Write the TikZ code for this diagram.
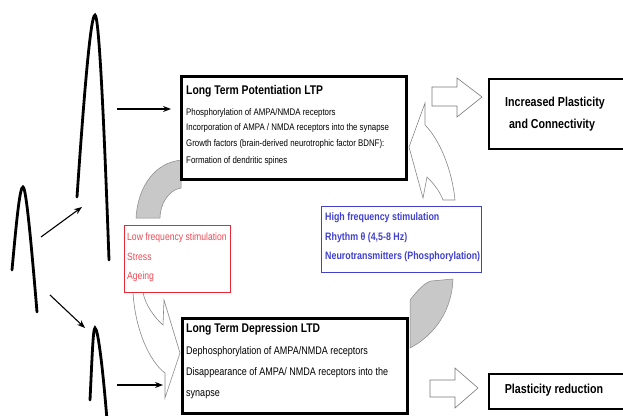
\documentclass[tikz,border=0pt]{standalone}
\usepackage{fontspec}
\setmainfont{Liberation Sans}
\newfontfamily\narrowfont[FakeStretch=0.82]{Liberation Sans}
\usetikzlibrary{arrows.meta, positioning}
\definecolor{cinzaBanda}{RGB}{200,200,200}
\definecolor{cinzaBorda}{RGB}{135,135,135}
\definecolor{vermelhoBaixa}{RGB}{232,40,55}
\definecolor{vermelhoTexto}{RGB}{240,75,85}
\definecolor{azulAlta}{RGB}{65,65,205}

\begin{document}
\begin{tikzpicture}[
    x=1pt, y=-1pt,
    every node/.style={inner sep=0pt, font=\narrowfont},
    mainbox/.style={draw=black, line width=2.6pt, fill=white, anchor=north west},
    effectbox/.style={draw=black, line width=2.4pt, fill=white, anchor=north west},
    lowbox/.style={draw=vermelhoBaixa, line width=1.1pt, fill=white, anchor=north west},
    highbox/.style={draw=azulAlta, line width=1.1pt, fill=white, anchor=north west},
    boxtitle/.style={anchor=west, font=\narrowfont\bfseries\fontsize{12.6}{13}\selectfont},
    ltpline/.style={anchor=west, font=\narrowfont\fontsize{9.6}{10}\selectfont},
    ltdline/.style={anchor=west, font=\narrowfont\fontsize{11}{12}\selectfont},
    lowline/.style={anchor=west, text=vermelhoTexto, font=\narrowfont\fontsize{10.5}{11}\selectfont},
    highline/.style={anchor=west, text=azulAlta, font=\narrowfont\bfseries\fontsize{10.8}{11}\selectfont},
    effecttext/.style={font=\narrowfont\bfseries\fontsize{13}{14}\selectfont},
    spike/.style={line width=2.8pt, line cap=round},
    stim/.style={-{Stealth[length=8pt, width=6pt]}, line width=1.1pt},
    band/.style={fill=cinzaBanda, draw=cinzaBorda, line width=0.5pt},
    hollow/.style={fill=white, draw=cinzaBorda, line width=0.6pt}
]
    \useasboundingbox (0,0) rectangle (623,415);

    % Potenciais de acao (espigas)
    \draw[spike] (12,270) .. controls (17,215) and (20,187) .. (23,187)
                          .. controls (26,187) and (31,240) .. (37,312);
    \draw[spike] (77,197) .. controls (85,80) and (91,15) .. (95,15)
                          .. controls (99,15) and (104,120) .. (109,260);
    \draw[spike] (90,400) .. controls (92,360) and (93,328) .. (95,328)
                          .. controls (98,328) and (103,370) .. (107,420);

    \coordinate (s0up) at (41,237);
    \coordinate (s0dn) at (50,295);
    \coordinate (s1) at (82,207);
    \coordinate (s2) at (85,328);
    \coordinate (s1out) at (117,109);
    \coordinate (s2out) at (117,385);

    % Banda cinza esquerda (LTP -> baixa frequencia)
    \draw[band] (136,218) .. controls (138,185) and (156,162) .. (182,160)
                -- (181,188) .. controls (168,190) and (160,205) .. (160,218) -- cycle;
    % Banda cinza direita (LTD -> alta frequencia)
    \draw[band] (410,348) -- (410,300) .. controls (418,290) and (424,283) .. (431,281)
                -- (453,279) .. controls (452,310) and (435,335) .. (410,348) -- cycle;

    % Seta vazada esquerda (-> LTD)
    \draw[hollow] (133,292) .. controls (135,330) and (150,362) .. (165,373)
                  -- (165,398) -- (180,353) -- (164,300) -- (163,325)
                  .. controls (155,318) and (145,305) .. (143,292) -- cycle;
    % Seta vazada direita (-> LTP)
    \draw[hollow] (455,200) .. controls (452,170) and (440,140) .. (425,125)
                  -- (425,103) -- (409,147) -- (423,198) -- (427,177)
                  .. controls (435,185) and (440,192) .. (443,200) -- cycle;

    % Caixa LTP
    \node[mainbox, minimum width=225pt, minimum height=103pt] (ltp) at (180,75) {};
    \node[boxtitle] at (186,91) {Long Term Potentiation LTP};
    \node[ltpline] at (186,113) {Phosphorylation of AMPA/NMDA receptors};
    \node[ltpline] at (186,128) {Incorporation of AMPA / NMDA receptors into the synapse};
    \node[ltpline] at (186,144) {Growth factors (brain-derived neurotrophic factor BDNF):};
    \node[ltpline] at (186,161) {Formation of dendritic spines};

    % Caixa LTD
    \node[mainbox, minimum width=225pt, minimum height=95pt] (ltd) at (181,317) {};
    \node[boxtitle] at (186,329) {Long Term Depression LTD};
    \node[ltdline] at (186,352) {Dephosphorylation of AMPA/NMDA receptors};
    \node[ltdline] at (186,373) {Disappearance of AMPA/ NMDA receptors into the};
    \node[ltdline] at (186,395) {synapse};

    % Estimulos
    \node[lowbox, minimum width=106pt, minimum height=67pt] (low) at (124,225) {};
    \node[lowline] at (127,238) {Low frequency stimulation};
    \node[lowline] at (127,257) {Stress};
    \node[lowline] at (127,277) {Ageing};

    \node[highbox, minimum width=160pt, minimum height=66pt] (high) at (321,206) {};
    \node[highline] at (325,218) {High frequency stimulation};
    \node[highline] at (325,238) {Rhythm θ (4,5-8 Hz)};
    \node[highline] at (325,257) {Neurotransmitters (Phosphorylation)};

    % Efeitos
    \node[effectbox, minimum width=140pt, minimum height=70pt] (incr) at (488,78) {};
    \node[effecttext] at (555,103) {Increased Plasticity};
    \node[effecttext] at (552,125) {and Connectivity};
    \node[effectbox, minimum width=140pt, minimum height=35pt] (redu) at (488,373) {};
    \node[effecttext] at (554,390) {Plasticity reduction};

    % Setas vazadas retas
    \draw[hollow, draw=cinzaBorda!90!black] (432,87) -- (457,87) -- (457,78) -- (482,97)
        -- (457,117) -- (457,106) -- (432,106) -- cycle;
    \draw[hollow, draw=cinzaBorda!90!black] (430,380) -- (455,380) -- (455,368) -- (478,388)
        -- (455,408) -- (455,397) -- (430,397) -- cycle;

    % Setas de estimulo
    \draw[stim] (s0up) -- (s1);
    \draw[stim] (s0dn) -- (s2);
    \draw[stim] (s1out) -- ([xshift=-9pt]ltp.west |- s1out);
    \draw[stim] (s2out) -- ([xshift=-18pt]ltd.west |- s2out);

\end{tikzpicture}
\end{document}
